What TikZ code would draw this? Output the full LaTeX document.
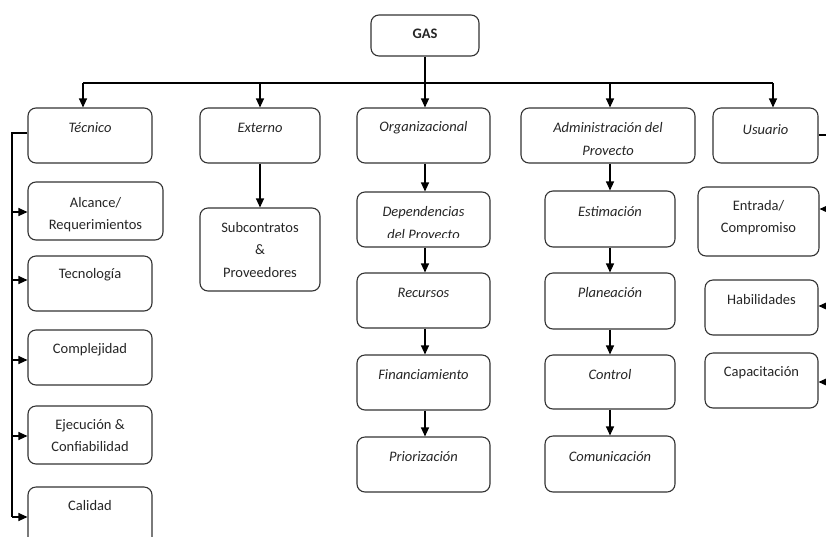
\documentclass[tikz,border=0pt]{standalone}
\usepackage{fontspec}
\setmainfont{Carlito}
\usetikzlibrary{arrows.meta}
\begin{document}
\begin{tikzpicture}[x=1pt,y=-1pt,
  box/.style={draw=black!80, line width=1.1pt, rounded corners=8pt, fill=white, inner sep=0pt},
  txt/.style={font=\fontsize{14.5}{22.5}\selectfont, align=center, inner sep=0pt, text=black!85},
  itx/.style={txt, font=\fontsize{14.5}{22.5}\selectfont\itshape},
  conn/.style={line width=1.1pt, -{Triangle[length=9pt,width=8pt]}},
  wire/.style={line width=1.1pt}]
\useasboundingbox (0,0) rectangle (826,536);
\clip (0,0) rectangle (826,536);
% boxes
\node[box, minimum width=108pt, minimum height=41pt] (gas) at (425,35.5) {};
\node[box, minimum width=124pt, minimum height=55pt] (tec) at (90,135.5) {};
\node[box, minimum width=120pt, minimum height=55pt] (ext) at (260,135.5) {};
\node[box, minimum width=133pt, minimum height=55pt] (org) at (423.5,135.5) {};
\node[box, minimum width=174pt, minimum height=55pt] (adm) at (608,135.5) {};
\node[box, minimum width=105pt, minimum height=55pt] (usu) at (765.5,135.5) {};
\node[box, minimum width=135pt, minimum height=58pt] (alc) at (95.5,211) {};
\node[box, minimum width=124pt, minimum height=55pt] (tecn) at (90,283.5) {};
\node[box, minimum width=124pt, minimum height=55pt] (comp) at (90,357.5) {};
\node[box, minimum width=124pt, minimum height=58pt] (eje) at (90,435) {};
\node[box, minimum width=124pt, minimum height=58pt] (cal) at (90,516) {};
\node[box, minimum width=120pt, minimum height=83pt] (sub) at (260,249.5) {};
\node[box, minimum width=133pt, minimum height=55pt] (dep) at (423.5,219.5) {};
\node[box, minimum width=133pt, minimum height=55pt] (rec) at (423.5,300.5) {};
\node[box, minimum width=133pt, minimum height=55pt] (fin) at (423.5,382.5) {};
\node[box, minimum width=133pt, minimum height=55pt] (pri) at (423.5,464.5) {};
\node[box, minimum width=130pt, minimum height=56pt] (est) at (610,219) {};
\node[box, minimum width=130pt, minimum height=56pt] (pla) at (610,301) {};
\node[box, minimum width=130pt, minimum height=54pt] (con) at (610,382) {};
\node[box, minimum width=130pt, minimum height=56pt] (comu) at (610,464) {};
\node[box, minimum width=121pt, minimum height=69pt] (ent) at (758.5,221.5) {};
\node[box, minimum width=113pt, minimum height=55pt] (hab) at (761.5,307.5) {};
\node[box, minimum width=113pt, minimum height=55pt] (cap) at (761.5,380.5) {};
% texts
\node[txt, font=\fontsize{14.5}{22}\selectfont\bfseries] (tgas) at (425,34) {GAS};
\node[itx] (ttec) at (90,128) {Técnico};
\node[itx] (text) at (260,128) {Externo};
\node[itx] (torg) at (423.5,128) {Organizacional};
\node[itx] (tusu) at (765.5,130) {Usuario};
\node[itx, anchor=base] (tadm1) at (608,132) {Administración del};
\begin{scope}
  \clip (adm.north west) rectangle (adm.east |- 0,154);
  \node[itx, anchor=base] (tadm2) at (608,155.5) {Proyecto};
\end{scope}
\node[txt] (talc) at (95.5,214.5) {Alcance/\\Requerimientos};
\node[txt] (ttecn) at (90,275) {Tecnología};
\node[txt] (tcomp) at (90,350) {Complejidad};
\node[txt] (teje) at (90,435.5) {Ejecución \&\\Confiabilidad};
\node[txt] (tcal) at (90,506) {Calidad};
\node[txt] (tsub) at (260,250) {Subcontratos\\\&\\Proveedores};
\node[itx, anchor=base] (tdep1) at (423.5,216) {Dependencias};
\begin{scope}
  \clip (dep.north west) rectangle (dep.east |- 0,237);
  \node[itx, anchor=base] (tdep2) at (423.5,239.5) {del Proyecto};
\end{scope}
\node[itx] (trec) at (423.5,293) {Recursos};
\node[itx] (tfin) at (423.5,375) {Financiamiento};
\node[itx] (tpri) at (423.5,457) {Priorización};
\node[itx] (test) at (610,212) {Estimación};
\node[itx] (tpla) at (610,293) {Planeación};
\node[itx] (tcon) at (610,375) {Control};
\node[itx] (tcomu) at (610,457) {Comunicación};
\node[txt] (tent) at (758.5,217.5) {Entrada/\\Compromiso};
\node[txt] (thab) at (761.5,300) {Habilidades};
\node[txt] (tcap) at (761.5,373) {Capacitación};
% top bus
\coordinate (bt) at (83,83);
\coordinate (be) at (260,83);
\coordinate (bo) at (425,83);
\coordinate (ba) at (610,83);
\coordinate (bu) at (773,83);
\draw[wire] (bt) -- (bu);
\draw[conn] (gas.south) -- (gas.south |- org.north);
\draw[conn] (bt) -- (bt |- tec.north);
\draw[conn] (be) -- (ext.north);
\draw[conn] (ba) -- (ba |- adm.north);
\draw[conn] (bu) -- (bu |- usu.north);
% Externo
\draw[conn] (ext.south) -- (sub.north);
% Organizacional column
\coordinate (oc) at (425,0);
\draw[conn] (oc |- org.south) -- (oc |- dep.north);
\draw[conn] (oc |- dep.south) -- (oc |- rec.north);
\draw[conn] (oc |- rec.south) -- (oc |- fin.north);
\draw[conn] (oc |- fin.south) -- (oc |- pri.north);
% Administracion column
\draw[conn] (ba |- adm.south) -- (est.north);
\draw[conn] (est.south) -- (pla.north);
\draw[conn] (pla.south) -- (con.north);
\draw[conn] (con.south) -- (comu.north);
% left bus (Tecnico)
\coordinate (lt) at (12,133);
\coordinate (l1) at (12,212);
\coordinate (l2) at (12,280);
\coordinate (l3) at (12,360);
\coordinate (l4) at (12,436);
\coordinate (l5) at (12,517);
\draw[wire] (lt -| tec.west) -- (lt) -- (l5);
\draw[conn] (l1) -- (l1 -| alc.west);
\draw[conn] (l2) -- (l2 -| tecn.west);
\draw[conn] (l3) -- (l3 -| comp.west);
\draw[conn] (l4) -- (l4 -| eje.west);
\draw[conn] (l5) -- (l5 -| cal.west);
% right bus (Usuario)
\coordinate (rt) at (834,135);
\coordinate (r1) at (834,209);
\coordinate (r2) at (834,306);
\coordinate (r3) at (834,382);
\draw[wire] (rt -| usu.east) -- (rt) -- (r3);
\draw[conn] (r1) -- (r1 -| ent.east);
\draw[conn] (r2) -- (r2 -| hab.east);
\draw[conn] (r3) -- (r3 -| cap.east);
\end{tikzpicture}
\end{document}
